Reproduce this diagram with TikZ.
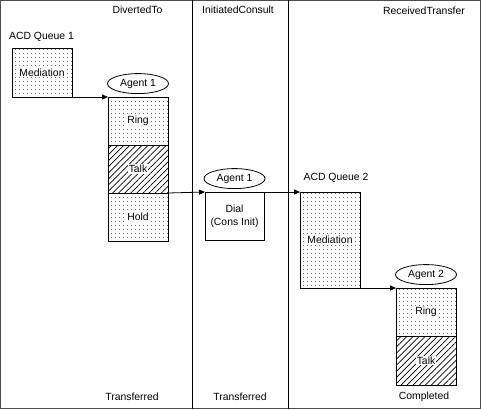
\documentclass[tikz,border=0pt]{standalone}
\usepackage{fontspec}
\setmainfont{Liberation Sans}
\usetikzlibrary{positioning, shapes.geometric, patterns.meta, arrows.meta}

\tikzset{
    every node/.style={font=\fontsize{10.4}{13}\selectfont},
    cell/.style={draw, minimum width=60pt, minimum height=48pt, inner sep=0pt, outer sep=0pt},
    dotcell/.style={cell, pattern={Dots[radius=0.55pt, distance=4pt]}},
    hatchcell/.style={cell, pattern={Lines[angle=45, distance=4.3pt, line width=0.7pt]}},
    agent/.style={draw, ellipse, minimum width=61pt, minimum height=20pt, inner sep=0pt},
    flow/.style={-{Triangle[length=6pt, width=5pt]}},
}
\newcommand{\onwhite}[1]{{\setlength{\fboxsep}{1pt}\colorbox{white}{#1}}}

\begin{document}
\begin{tikzpicture}[x=1pt, y=-1pt, line width=0.8pt]
    \useasboundingbox (0,0) rectangle (481,409);
    \draw[black!70] (0.5,0.5) rectangle (480.5,408.5);
    \draw (192,0.5) -- (192,408.5) (288,0.5) -- (288,408.5);

    % phases
    \node (diverted) at (137.5,10) {DivertedTo};
    \node (consult)  at (238,10)   {InitiatedConsult};
    \node (received) at (424,11)   {ReceivedTransfer};

    \node (xfer1) at (132,397) {Transferred};
    \node (xfer2) at (240,397) {Transferred};
    \node (done)  at (424,397) {Completed};

    % first queue and agent
    \node                                 (queue1)  at (41.5,37)   {ACD Queue 1};
    \node[dotcell, minimum height=49pt]   (med1)    at (42,72.5)   {\onwhite{Mediation}};
    \node[dotcell]                        (ring1)   at (138,121)   {\onwhite{Ring}};
    \node[hatchcell, below=0pt of ring1]  (talk1)                  {\onwhite{Talk}};
    \node[dotcell, below=0pt of talk1]    (hold1)                  {\onwhite{Hold}};
    \node[agent, above=3pt of ring1]      (agent1)                 {Agent 1};

    % consult
    \node[cell, minimum width=59pt, align=center] (dial) at (234.5,216) {Dial\\(Cons Init)};
    \node[agent, above=3pt of dial]       (agent1b)                {Agent 1};

    % second queue and agent
    \node                                 (queue2)  at (336,178)   {ACD Queue 2};
    \node[dotcell, minimum height=96pt]   (med2)    at (330,240)   {\onwhite{Mediation}};
    \node[dotcell]                        (ring2)   at (426,312)   {\onwhite{Ring}};
    \node[hatchcell, minimum height=49pt, below=0pt of ring2] (talk2) {\onwhite{Talk}};
    \node[agent, above=3pt of ring2]      (agent2)                 {Agent 2};

    \draw[flow] (med1.south west) -- (ring1.north west);
    \draw[flow] (hold1.north east) -- (dial.north west);
    \draw[flow] (dial.north east) -- (med2.north west);
    \draw[flow] (med2.south west) -- (ring2.north west);
\end{tikzpicture}
\end{document}
